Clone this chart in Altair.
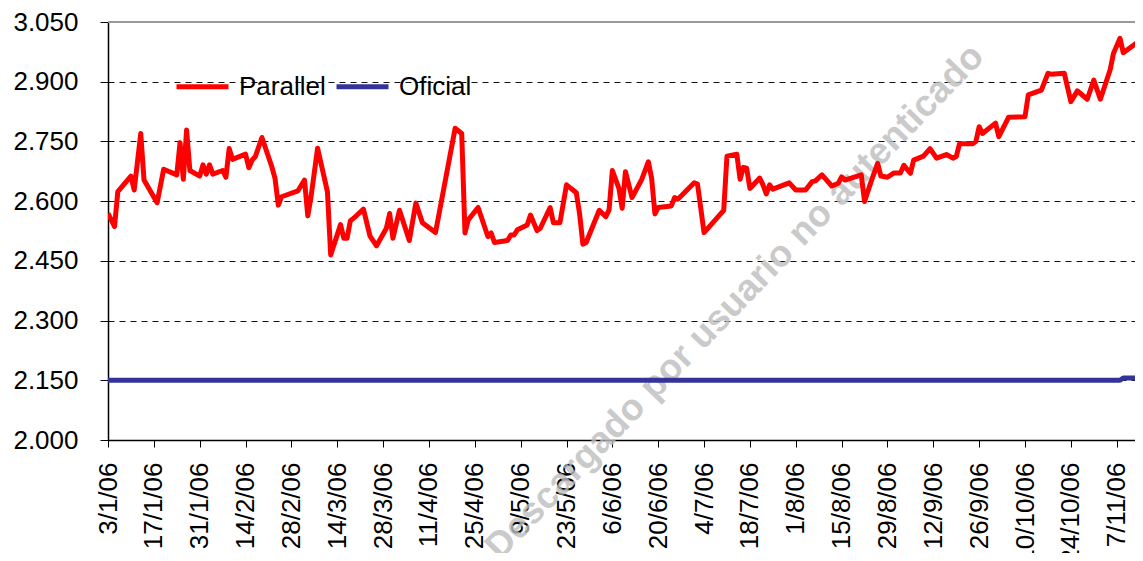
import altair as alt
import pandas as pd

# ---------------- data ----------------
fechas = [
    "2006-01-03", "2006-01-05", "2006-01-06", "2006-01-10", "2006-01-11", "2006-01-13", "2006-01-14",
    "2006-01-18", "2006-01-20", "2006-01-24", "2006-01-25", "2006-01-26", "2006-01-27", "2006-01-28",
    "2006-01-31", "2006-02-01", "2006-02-02", "2006-02-03", "2006-02-04", "2006-02-07", "2006-02-08",
    "2006-02-09", "2006-02-10", "2006-02-14", "2006-02-15", "2006-02-16", "2006-02-17", "2006-02-19",
    "2006-02-22", "2006-02-23", "2006-02-24", "2006-02-25", "2006-03-02", "2006-03-04", "2006-03-05",
    "2006-03-06", "2006-03-08", "2006-03-11", "2006-03-12", "2006-03-15", "2006-03-16", "2006-03-17",
    "2006-03-18", "2006-03-19", "2006-03-22", "2006-03-24", "2006-03-26", "2006-03-29", "2006-03-30",
    "2006-03-31", "2006-04-02", "2006-04-05", "2006-04-07", "2006-04-09", "2006-04-13", "2006-04-19",
    "2006-04-21", "2006-04-22", "2006-04-23", "2006-04-26", "2006-04-29", "2006-04-30", "2006-05-01",
    "2006-05-05", "2006-05-06", "2006-05-07", "2006-05-08", "2006-05-11", "2006-05-12", "2006-05-14",
    "2006-05-15", "2006-05-18", "2006-05-19", "2006-05-21", "2006-05-23", "2006-05-26", "2006-05-27",
    "2006-05-28", "2006-05-29", "2006-06-02", "2006-06-04", "2006-06-05", "2006-06-06", "2006-06-08",
    "2006-06-09", "2006-06-10", "2006-06-12", "2006-06-15", "2006-06-17", "2006-06-18", "2006-06-19",
    "2006-06-20", "2006-06-24", "2006-06-25", "2006-06-26", "2006-07-01", "2006-07-02", "2006-07-04",
    "2006-07-10", "2006-07-11", "2006-07-14", "2006-07-15", "2006-07-16", "2006-07-17", "2006-07-18",
    "2006-07-21", "2006-07-22", "2006-07-23", "2006-07-24", "2006-07-25", "2006-07-30", "2006-08-01",
    "2006-08-04", "2006-08-06", "2006-08-07", "2006-08-09", "2006-08-12", "2006-08-14", "2006-08-15",
    "2006-08-16", "2006-08-21", "2006-08-22", "2006-08-24", "2006-08-26", "2006-08-27", "2006-08-29",
    "2006-08-31", "2006-09-02", "2006-09-03", "2006-09-05", "2006-09-06", "2006-09-09", "2006-09-11",
    "2006-09-13", "2006-09-16", "2006-09-18", "2006-09-19", "2006-09-20", "2006-09-24", "2006-09-25",
    "2006-09-26", "2006-09-27", "2006-10-01", "2006-10-02", "2006-10-05", "2006-10-10", "2006-10-11",
    "2006-10-15", "2006-10-17", "2006-10-18", "2006-10-22", "2006-10-24", "2006-10-26", "2006-10-29",
    "2006-10-31", "2006-11-02", "2006-11-05", "2006-11-06", "2006-11-08", "2006-11-09", "2006-11-14",
    "2006-11-16",
]
paralelo = [
    2.569, 2.536, 2.624, 2.663, 2.628, 2.770, 2.653,
    2.596, 2.680, 2.666, 2.747, 2.655, 2.779, 2.677,
    2.663, 2.691, 2.668, 2.691, 2.668, 2.677, 2.660,
    2.732, 2.705, 2.718, 2.684, 2.703, 2.712, 2.760,
    2.687, 2.657, 2.590, 2.611, 2.626, 2.653, 2.563,
    2.611, 2.733, 2.624, 2.465, 2.541, 2.507, 2.507,
    2.551, 2.557, 2.580, 2.512, 2.488, 2.532, 2.569,
    2.507, 2.577, 2.501, 2.595, 2.546, 2.521, 2.783,
    2.770, 2.520, 2.553, 2.584, 2.511, 2.520, 2.496,
    2.501, 2.515, 2.515, 2.528, 2.540, 2.565, 2.526,
    2.532, 2.584, 2.546, 2.546, 2.641, 2.621, 2.568,
    2.492, 2.496, 2.577, 2.561, 2.578, 2.677, 2.632,
    2.582, 2.674, 2.609, 2.655, 2.699, 2.657, 2.568,
    2.584, 2.588, 2.609, 2.605, 2.646, 2.643, 2.521,
    2.577, 2.713, 2.718, 2.655, 2.685, 2.683, 2.632,
    2.658, 2.641, 2.618, 2.641, 2.630, 2.646, 2.628,
    2.628, 2.649, 2.651, 2.666, 2.638, 2.645, 2.661,
    2.653, 2.666, 2.599, 2.649, 2.695, 2.663, 2.660,
    2.671, 2.671, 2.690, 2.670, 2.703, 2.713, 2.732,
    2.708, 2.717, 2.708, 2.712, 2.744, 2.744, 2.750,
    2.787, 2.770, 2.796, 2.762, 2.811, 2.812, 2.867,
    2.879, 2.921, 2.919, 2.921, 2.850, 2.877, 2.856,
    2.904, 2.856, 2.930, 2.971, 3.009, 2.973, 3.003,
    2.975,
]
oficial_fechas = ["2006-01-03", "2006-11-08", "2006-11-09", "2006-11-16"]
oficial = [2.150, 2.150, 2.156, 2.156]

series = ["Parallel", "Oficial"]
colores = ["#FF0000", "#333399"]

tick_fechas = [
    "2006-01-03", "2006-01-17", "2006-01-31", "2006-02-14", "2006-02-28", "2006-03-14",
    "2006-03-28", "2006-04-11", "2006-04-25", "2006-05-09", "2006-05-23", "2006-06-06",
    "2006-06-20", "2006-07-04", "2006-07-18", "2006-08-01", "2006-08-15", "2006-08-29",
    "2006-09-12", "2006-09-26", "2006-10-10", "2006-10-24", "2006-11-07",
]
y_ticks = [2.000, 2.150, 2.300, 2.450, 2.600, 2.750, 2.900, 3.050]
x_domain = [("2006-01-03", 0), ("2006-11-12", 14)]
marca_agua = "Descargado por usuario no autenticado"


def dt(s, h=0):
    y, m, d = (int(p) for p in s.split("-"))
    return alt.DateTime(year=y, month=m, date=d, hours=h, utc=True)


df = pd.concat([
    pd.DataFrame({"fecha": fechas, "valor": paralelo, "serie": series[0]}),
    pd.DataFrame({"fecha": oficial_fechas, "valor": oficial, "serie": series[1]}),
], ignore_index=True)

FONT = "Liberation Sans"

x_enc = alt.X(
    "fecha:T",
    scale=alt.Scale(type="utc", domain=[dt(s, h) for s, h in x_domain]),
    axis=alt.Axis(
        values=[dt(s) for s in tick_fechas],
        format="%-d/%-m/%y",
        labelAngle=270,
        labelAlign="right",
        labelBaseline="middle",
        labelFontSize=26,
        labelFont=FONT,
        labelColor="black",
        labelPadding=15,
        labelOverlap=False,
        labelFlush=False,
        tickSize=7,
        tickColor="black",
        domainColor="black",
        domainWidth=1.5,
        grid=False,
        title=None,
    ),
)
y_enc = alt.Y(
    "valor:Q",
    scale=alt.Scale(domain=[2.0, 3.05], nice=False, zero=False),
    axis=alt.Axis(
        values=y_ticks,
        format=".3f",
        labelFontSize=26,
        labelFont=FONT,
        labelColor="black",
        labelPadding=22,
        tickSize=8,
        tickColor="black",
        domainColor="black",
        domainWidth=1.5,
        grid=True,
        gridDash=[6, 5],
        gridColor="#111111",
        gridWidth=1,
        title=None,
    ),
)

lineas = alt.Chart(df).mark_line(strokeWidth=5, strokeJoin="round", clip=True).encode(
    x=x_enc,
    y=y_enc,
    color=alt.Color(
        "serie:N",
        scale=alt.Scale(domain=series, range=colores),
        sort=series,
        legend=alt.Legend(
            title=None,
            orient="none",
            legendX=66,
            legendY=36,
            direction="horizontal",
            symbolType="stroke",
            symbolSize=2700,
            symbolStrokeWidth=5,
            labelFontSize=26,
            labelFont=FONT,
            labelColor="black",
            labelOffset=8,
            columnPadding=0,
        ),
    ),
    order=alt.Order("fecha:T"),
)

borde = alt.Chart(pd.DataFrame({"v": [y_ticks[-1]]})).mark_rule(
    color="#999999", strokeWidth=2
).encode(y="v:Q")

agua = alt.Chart(pd.DataFrame({"t": [marca_agua]})).mark_text(
    angle=314, fontSize=37, fontWeight="bold", color="#bdbdbd", opacity=0.8, font=FONT
).encode(x=alt.value(627), y=alt.value(280), text="t:N")

chart = alt.layer(agua, borde, lineas).properties(
    width=1027,
    height=418,
    autosize=alt.AutoSizeParams(type="none"),
    padding={"left": 100, "top": 14, "right": 0, "bottom": 113},
    background="white",
).configure_view(stroke=None)

chart.save("out.html", embed_options={"renderer": "svg", "actions": False})
